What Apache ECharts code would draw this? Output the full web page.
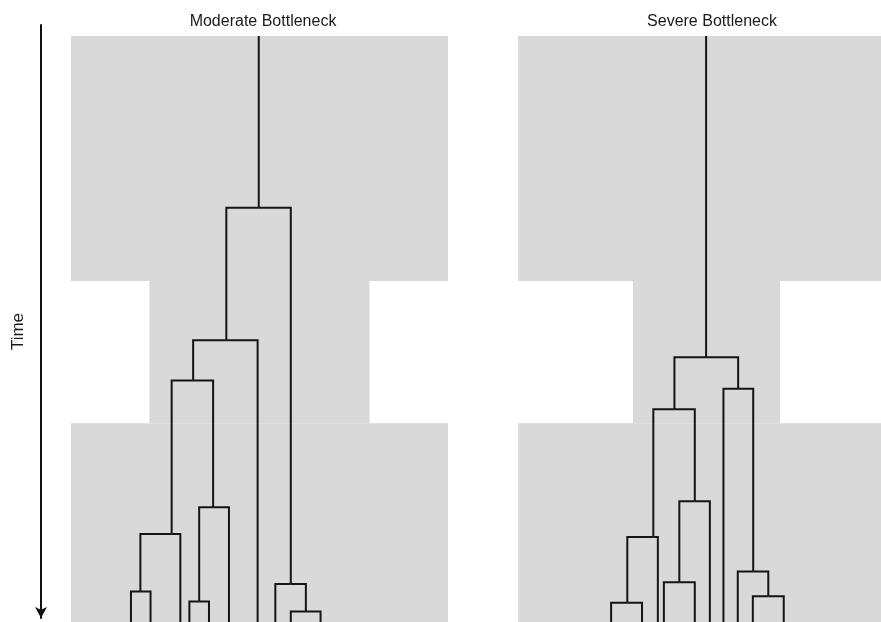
<!DOCTYPE html>
<html>
<head>
<meta charset="utf-8">
<script src="https://cdn.jsdelivr.net/npm/echarts@6/dist/echarts.min.js"></script>
<style>
html,body{margin:0;padding:0;background:#fff;}
#chart{width:881px;height:622px;}
</style>
</head>
<body>
<div id="chart"></div>
<script>
// ---- Data ----
const panelTitles = ['Moderate Bottleneck', 'Severe Bottleneck'];
const timeLabel = 'Time';
const timeMax = 100;

// population profile (segments from present=0 back to past=100): start, end, population width
const profileStart = [0, 33.9, 58.2];
const profileEnd = [33.9, 58.2, 100];
const moderateSize = [100, 58.4, 100];
const severeSize = [100, 39, 100];

// genealogy nodes: x position, coalescence time, parent index (-1 = root)
const moderateX =      [-0.2, -8.8, 8.3, 4.2, 12.3, 8.3, 16.2, -17.6, -0.5, -23.3, -12.3, -31.6, -34.1, -28.9, -21.0, -16.0, -18.6, -13.4, -8.1];
const moderateTime =   [70.7, 48.1, 6.5, 0, 1.8, 0, 0, 41.2, 0, 15.0, 19.6, 5.2, 0, 0, 0, 3.5, 0, 0, 0];
const moderateParent = [-1, 0, 0, 2, 2, 4, 4, 1, 1, 7, 7, 9, 11, 11, 9, 10, 15, 15, 10];

const severeX =      [-0.1, -8.5, 8.4, -14.1, -3.1, -21.0, -25.3, -17.1, -12.9, -7.2, -11.3, -3.1, 0.9, 4.5, 12.4, 8.3, 16.4, 12.3, 20.5];
const severeTime =   [45.2, 36.3, 39.8, 14.5, 20.6, 3.3, 0, 0, 0, 6.8, 0, 0, 0, 0, 8.6, 0, 4.4, 0, 0];
const severeParent = [-1, 0, 0, 1, 1, 3, 5, 5, 3, 4, 9, 9, 4, 2, 2, 14, 14, 16, 16];

// ---- Build ----
function profileData(sizes) {
  return sizes.map((s, i) => [profileStart[i], profileEnd[i], s]);
}
function treeData(xs, ts, ps) {
  return xs.map((x, i) => {
    const p = ps[i];
    if (p < 0) return [x, ts[i], x, timeMax];
    return [x, ts[i], xs[p], ts[p]];
  });
}

function profileSeries(idx, sizes) {
  return {
    type: 'custom', xAxisIndex: idx, yAxisIndex: idx, z: 1, silent: true, clip: false,
    data: profileData(sizes),
    renderItem: function (params, api) {
      const t0 = api.value(0), t1 = api.value(1), half = api.value(2) / 2;
      const a = api.coord([-half, t1]);
      const b = api.coord([half, t0]);
      return { type: 'rect', shape: { x: a[0], y: a[1], width: b[0] - a[0], height: b[1] - a[1] },
        style: { fill: '#d9d9d9' } };
    }
  };
}
function treeSeries(idx, xs, ts, ps) {
  return {
    type: 'custom', xAxisIndex: idx, yAxisIndex: idx, z: 5, silent: true, clip: false,
    data: treeData(xs, ts, ps),
    renderItem: function (params, api) {
      const x = api.value(0), t = api.value(1), px = api.value(2), pt = api.value(3);
      const p1 = api.coord([x, t]);
      const p2 = api.coord([x, pt]);
      const p3 = api.coord([px, pt]);
      return { type: 'polyline', shape: { points: [p1, p2, p3] },
        style: { stroke: '#151515', lineWidth: 2, fill: null, lineJoin: 'miter', lineCap: 'butt' } };
    }
  };
}

const chart = echarts.init(document.getElementById('chart'));
const hiddenY = (i) => ({ gridIndex: i, type: 'value', min: 0, max: timeMax, show: false });
const titleStyle = { fontFamily: 'Liberation Sans', fontSize: 16, fontWeight: 'normal', color: '#1a1a1a' };

chart.setOption({
  animation: false,
  title: [
    { text: panelTitles[0], left: 258, top: 9, textAlign: 'center', textStyle: titleStyle },
    { text: panelTitles[1], left: 707, top: 9, textAlign: 'center', textStyle: titleStyle }
  ],
  grid: [
    { left: 71, top: 36, width: 377, bottom: 0 },
    { left: 518, top: 36, right: 0, bottom: 0 },
    { left: 41, top: 25, width: 10, bottom: 4 }
  ],
  xAxis: [
    { gridIndex: 0, type: 'value', min: -50, max: 50, show: false },
    { gridIndex: 1, type: 'value', min: -50, max: 46.3, show: false },
    { gridIndex: 2, type: 'value', show: false }
  ],
  yAxis: [hiddenY(0), hiddenY(1), {
    gridIndex: 2, type: 'value', min: 0, max: 1, inverse: true,
    name: timeLabel, nameLocation: 'middle', nameGap: 14, nameRotate: 90,
    nameTextStyle: { fontFamily: 'Liberation Sans', fontSize: 17, color: '#1a1a1a', padding: [0, 20, 0, 0] },
    axisLine: { show: true, symbol: ['arrow', 'none'], symbolSize: [9, 11],
      lineStyle: { color: '#111', width: 2 } },
    axisTick: { show: false }, axisLabel: { show: false }, splitLine: { show: false }
  }],
  series: [
    profileSeries(0, moderateSize),
    profileSeries(1, severeSize),
    treeSeries(0, moderateX, moderateTime, moderateParent),
    treeSeries(1, severeX, severeTime, severeParent)
  ]
});
</script>
</body>
</html>
